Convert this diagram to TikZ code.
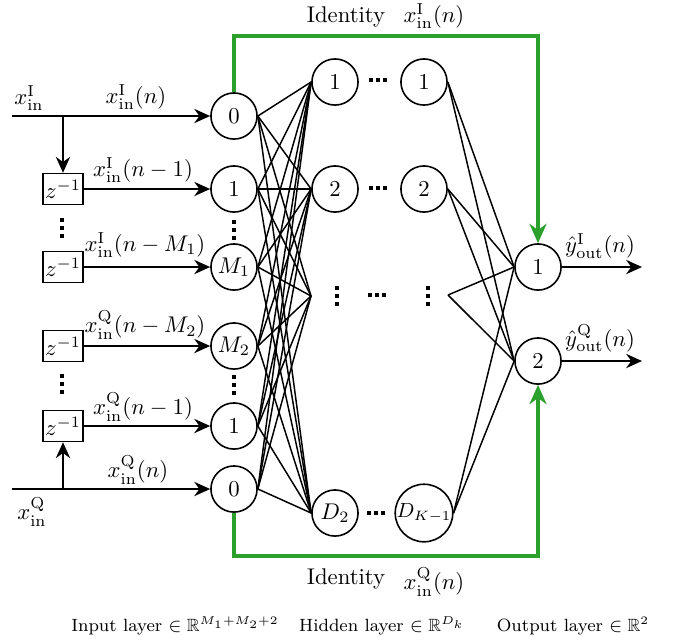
\documentclass[tikz,border=0pt]{standalone}
\usepackage{amssymb}
\usetikzlibrary{arrows.meta}
\definecolor{idgreen}{RGB}{44,160,44}
\begin{document}
\begin{tikzpicture}[x=0.44pt,y=-0.44pt,
  neuron/.style={draw,circle,minimum size=20.3pt,inner sep=0pt,line width=0.7pt},
  delaybox/.style={draw,rectangle,minimum width=17.6pt,minimum height=13.6pt,inner sep=0pt,line width=0.7pt},
  conn/.style={line width=0.65pt},
  sig/.style={line width=0.7pt,-{Stealth[length=7pt,width=6.3pt]}},
  idline/.style={line width=1.4pt,draw=idgreen,-{Stealth[length=8.5pt,width=7.5pt,fill=idgreen]}},
  lbl/.style={inner sep=0pt},
  capstyle/.style={inner sep=0pt,font=\fontsize{7.8}{9.5}\selectfont},
  vdts/.pic={\foreach \k in {-8,0,8} \fill (-1.6,\k-1.6) rectangle (1.6,\k+1.6);},
  hdts/.pic={\foreach \k in {-7,0,7} \fill (\k-1.6,-1.6) rectangle (\k+1.6,1.6);}
]
\useasboundingbox (0,0) rectangle (675,642);

% input layer
\node[neuron] (i0) at (234,116) {$0$};
\node[neuron] (i1) at (234,189) {$1$};
\node[neuron] (iM1) at (234,267) {$M_1$};
\node[neuron] (iM2) at (234,346) {$M_2$};
\node[neuron] (q1) at (234,426) {$1$};
\node[neuron] (q0) at (234,489) {$0$};

% delays
\node[delaybox] (d1) at (63,189) {$z^{-1}$};
\node[delaybox] (d2) at (63,267) {$z^{-1}$};
\node[delaybox] (d3) at (63,346) {$z^{-1}$};
\node[delaybox] (d4) at (63,426) {$z^{-1}$};

% hidden layer
\node[neuron] (h1) at (335,82) {$1$};
\node[neuron] (h2) at (335,189) {$2$};
\node[neuron] (hD) at (335,513) {$D_2$};
\node[neuron] (g1) at (424,82) {$1$};
\node[neuron] (g2) at (424,189) {$2$};
\node[neuron] (gK) at (424,513) {\small$D_{K-1}$};
\coordinate (hd) at (311,296);
\coordinate (gd) at (448,295);

% output layer
\node[neuron] (o1) at (538,267) {$1$};
\node[neuron] (o2) at (538,361) {$2$};
\coordinate (oI) at (642,267);
\coordinate (oQ) at (642,361);

% dots
\pic at (62,228) {vdts};
\pic at (234,230) {vdts};
\pic at (62,384) {vdts};
\pic at (234,385) {vdts};
\pic at (337,296) {vdts};
\pic at (428,296) {vdts};
\pic at (378,80) {hdts};
\pic at (378,188) {hdts};
\pic at (377,295) {hdts};
\pic at (376,513) {hdts};

% input signals
\coordinate (inI) at (12,116);
\coordinate (brI) at (63,116);
\coordinate (inQ) at (12,489);
\coordinate (brQ) at (63,489);
\draw[sig] (inI) -- (i0);
\draw[sig] (brI) -- (d1);
\draw[sig] (inQ) -- (q0);
\draw[sig] (brQ) -- (d4);
\draw[sig] (d1) -- (i1);
\draw[sig] (d2) -- (iM1);
\draw[sig] (d3) -- (iM2);
\draw[sig] (d4) -- (q1);

% labels of input signals
\node[lbl] (lxI) at (29,98) {$x_{\mathrm{in}}^{\mathrm{I}}$};
\node[lbl] (lxQ) at (32,512) {$x_{\mathrm{in}}^{\mathrm{Q}}$};
\node[lbl] (lI0) at (136,97) {$x_{\mathrm{in}}^{\mathrm{I}}(n)$};
\node[lbl] (lI1) at (143,170) {$x_{\mathrm{in}}^{\mathrm{I}}(n-1)$};
\node[lbl] (lIM) at (145,245) {$x_{\mathrm{in}}^{\mathrm{I}}(n-M_1)$};
\node[lbl] (lQM) at (145,325) {$x_{\mathrm{in}}^{\mathrm{Q}}(n-M_2)$};
\node[lbl] (lQ1) at (143,407) {$x_{\mathrm{in}}^{\mathrm{Q}}(n-1)$};
\node[lbl] (lQ0) at (138,470) {$x_{\mathrm{in}}^{\mathrm{Q}}(n)$};

% input -> hidden connections
\foreach \s in {i0,i1,iM1,iM2,q1,q0} {
  \foreach \t in {h1,h2,hD} \draw[conn] (\s.east) -- (\t.west);
  \draw[conn] (\s.east) -- (hd);
}
% hidden -> output connections
\foreach \t in {o1,o2} {
  \foreach \s in {g1,g2,gK} \draw[conn] (\s.east) -- (\t.west);
  \draw[conn] (gd) -- (\t.west);
}

% outputs
\draw[sig] (o1) -- (oI);
\draw[sig] (o2) -- (oQ);
\node[lbl] (lyI) at (600,246) {$\hat{y}_{\mathrm{out}}^{\mathrm{I}}(n)$};
\node[lbl] (lyQ) at (600,338) {$\hat{y}_{\mathrm{out}}^{\mathrm{Q}}(n)$};

% identity paths
\coordinate (gtop) at (0,36);
\coordinate (gbot) at (0,556);
\draw[idline] (i0.north) -- (i0.north |- gtop) -| (o1.north);
\draw[idline] (q0.south) -- (q0.south |- gbot) -| (o2.south);
\node[lbl] (idT) at (346,17) {Identity};
\node[lbl] (idTx) at (434,16) {$x_{\mathrm{in}}^{\mathrm{I}}(n)$};
\node[lbl] (idB) at (346,579) {Identity};
\node[lbl] (idBx) at (434,582) {$x_{\mathrm{in}}^{\mathrm{Q}}(n)$};

% layer captions
\node[capstyle] (capI) at (175,626) {Input layer $\in\mathbb{R}^{M_1+M_2+2}$};
\node[capstyle] (capH) at (382,626) {Hidden layer $\in\mathbb{R}^{D_k}$};
\node[capstyle] (capO) at (573,626) {Output layer $\in\mathbb{R}^{2}$};
\end{tikzpicture}
\end{document}
